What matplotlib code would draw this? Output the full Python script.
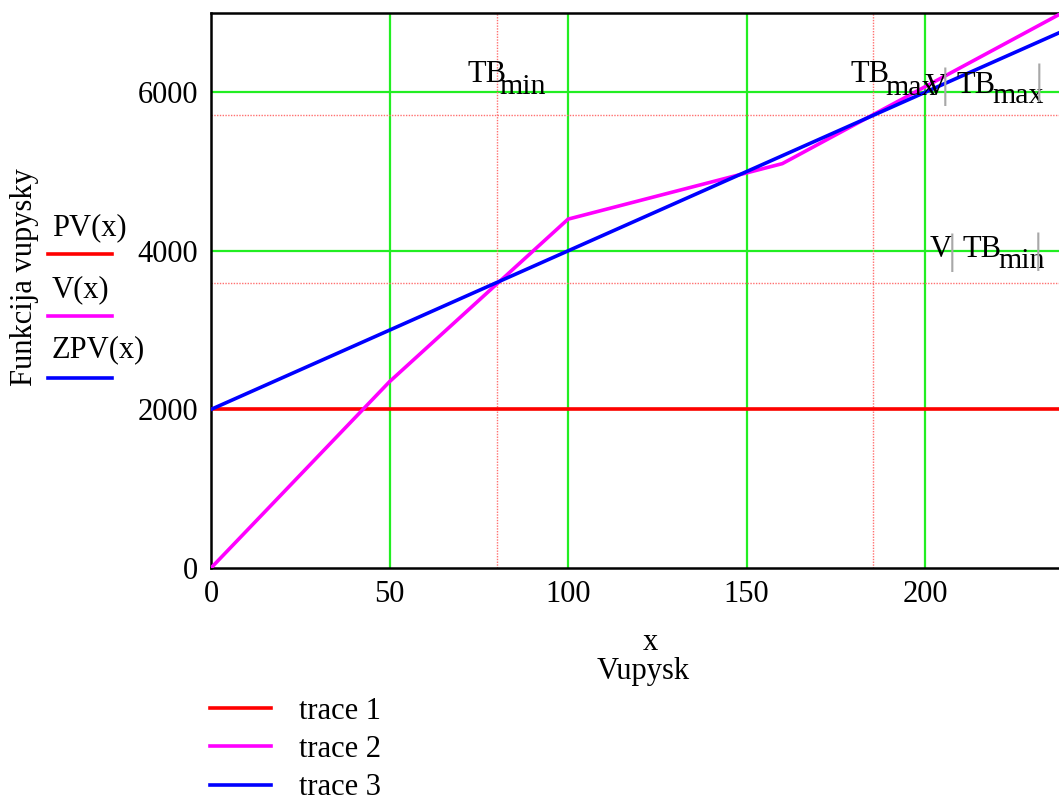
import matplotlib
matplotlib.use("Agg")
import matplotlib.pyplot as plt
from matplotlib.lines import Line2D

plt.rcParams['font.family'] = ['Liberation Serif', 'DejaVu Serif']

# data
x_pv = [0, 237.5]
pv = [2000, 2000]
x_v = [0, 50, 100, 160, 237.5]
v = [0, 2350, 4400, 5100, 6980]
x_zpv = [0, 237.5]
zpv = [2000, 6750]

tb_min = 80
tb_max = 185.5
v_tb_min = 3600
v_tb_max = 5710

x_ticks = [0, 50, 100, 150, 200]
y_ticks = [0, 2000, 4000, 6000]

series_names = ["PV(x)", "V(x)", "ZPV(x)"]
trace_names = ["trace 1", "trace 2", "trace 3"]
colors = ["#ff0000", "#ff00ff", "#0000ff"]

FS = 22
SUB = 21.5

fig = plt.figure(figsize=(10.59, 8.01), dpi=100)
ax = fig.add_axes([211 / 1059, 1 - 568 / 801, 1 - 211 / 1059, (568 - 13) / 801])

# grid
for gx in x_ticks[1:]:
    ax.axvline(gx, color="#22ee22", lw=1.6, zorder=1)
for gy in y_ticks[1:]:
    ax.axhline(gy, color="#22ee22", lw=1.6, zorder=1)

# marker lines
mk = dict(color="#ff7070", lw=1.0, ls=(0, (1, 1)), zorder=1)
ax.axvline(tb_min, **mk)
ax.axvline(tb_max, **mk)
ax.axhline(v_tb_min, **mk)
ax.axhline(v_tb_max, **mk)

l1, = ax.plot(x_pv, pv, color=colors[0], lw=2.6, zorder=3)
l2, = ax.plot(x_v, v, color=colors[1], lw=2.6, zorder=3)
l3, = ax.plot(x_zpv, zpv, color=colors[2], lw=2.6, zorder=4)

ax.set_xlim(0, 237.5)
ax.set_ylim(0, 7000)
ax.set_xticks(x_ticks)
ax.set_yticks(y_ticks)
ax.tick_params(length=0, labelsize=FS)
ax.tick_params(axis="x", pad=9)
ax.tick_params(axis="y", pad=9)
for s in ["top", "left", "bottom"]:
    ax.spines[s].set_linewidth(1.8)
    ax.spines[s].set_color("black")
ax.spines["right"].set_visible(False)


def txt(x, y, s, size=FS):
    ax.text(x, y, s, fontsize=size, ha="left", va="baseline", zorder=5)


def bar(x, y):
    ax.text(x, y, "|", fontsize=31, color="#a8a8a8", ha="center",
            va="center", zorder=5)


# marker labels
txt(71.7, 6129, "TB")
txt(80.9, 5978, "min", SUB)

txt(179.0, 6129, "TB")
txt(188.8, 5965, "max", SUB)

txt(200.0, 5965, "V")
bar(205.6, 6073)
txt(208.9, 5991, "TB")
txt(218.7, 5865, "max", SUB)
bar(231.9, 6117)

txt(201.4, 3922, "V")
bar(207.5, 3979)
txt(210.6, 3922, "TB")
txt(220.4, 3784, "min", SUB)
bar(231.6, 3992)

# axis titles
fig.text(25 / 1059, 1 - 277 / 801, "Funkcija vupysky", rotation=90,
         fontsize=FS, ha="center", va="center")
fig.text(650 / 1059, 1 - 642 / 801, "x", fontsize=FS, ha="center", va="center")
fig.text(643 / 1059, 1 - 672 / 801, "Vupysk", fontsize=FS, ha="center", va="center")

# left series labels
text_y = [235, 297, 357]
line_y = [254, 316, 378]
for name, c, ty, ly in zip(series_names, colors, text_y, line_y):
    fig.text(52 / 1059, 1 - ty / 801, name, fontsize=FS, ha="left", va="baseline")
    fig.add_artist(Line2D([48 / 1059, 112 / 1059], [1 - ly / 801, 1 - ly / 801],
                          color=c, lw=2.6, transform=fig.transFigure))

# bottom legend
fig.legend([l1, l2, l3], trace_names, loc="upper left",
           bbox_to_anchor=(210 / 1059, 1 - 697 / 801), frameon=False,
           fontsize=FS, handlelength=2.0, handletextpad=0.9,
           labelspacing=0.3, borderpad=0, borderaxespad=0)

fig.savefig("out.png", dpi=100)
